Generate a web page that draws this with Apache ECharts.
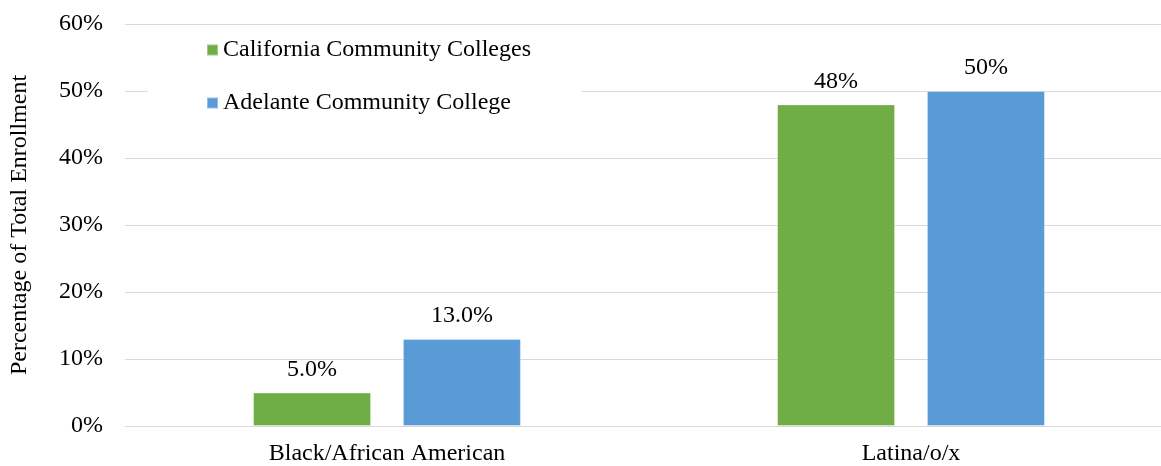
<!DOCTYPE html>
<html>
<head>
<meta charset="utf-8">
<script src="https://cdn.jsdelivr.net/npm/echarts@6/dist/echarts.min.js"></script>
<style>
html,body{margin:0;padding:0;background:#fff;overflow:hidden;width:1161px;height:466px;}
#chart{width:1173px;height:466px;}
</style>
</head>
<body>
<div id="chart"></div>
<script>
const categories = ['Black/African American', 'Latina/o/x'];
const seriesNames = ['California Community Colleges', 'Adelante Community College'];
const cccValues = [5.0, 48];
const adelanteValues = [13.0, 50];
const cccLabels = ['5.0%', '48%'];
const adelanteLabels = ['13.0%', '50%'];
const yTicks = [0, 10, 20, 30, 40, 50, 60];

const FONT = '"Liberation Serif", "Times New Roman", serif';
const TXT = '#000';

const chart = echarts.init(document.getElementById('chart'), null, {renderer: 'canvas'});

function mkLabel(labels) {
  return {
    show: true,
    position: 'top',
    distance: 11,
    fontFamily: FONT,
    fontSize: 24,
    color: TXT,
    formatter: p => labels[p.dataIndex]
  };
}

chart.setOption({
  animation: false,
  backgroundColor: '#fff',
  grid: {left: 122, top: 24, bottom: 40, right: 0, containLabel: false},
  legend: {
    orient: 'vertical',
    left: 148,
    top: 28,
    padding: [10, 51, 10, 58],
    backgroundColor: '#fff',
    itemWidth: 11,
    itemHeight: 11,
    itemGap: 29,
    icon: 'rect',
    textStyle: {fontFamily: FONT, fontSize: 24, color: TXT, padding: [0, 0, 0, 0]},
    data: seriesNames
  },
  xAxis: {
    type: 'category',
    data: categories,
    axisLine: {show: true, lineStyle: {color: '#D9D9D9', width: 1}},
    axisTick: {show: false},
    axisLabel: {fontFamily: FONT, fontSize: 24, color: TXT, margin: 16}
  },
  yAxis: {
    type: 'value',
    min: yTicks[0],
    max: yTicks[yTicks.length - 1],
    interval: yTicks[1] - yTicks[0],
    name: 'Percentage of Total Enrollment',
    nameLocation: 'middle',
    nameRotate: 90,
    nameGap: 93,
    nameTextStyle: {fontFamily: FONT, fontSize: 24, color: TXT},
    axisLine: {show: false},
    axisTick: {show: false},
    axisLabel: {fontFamily: FONT, fontSize: 24, color: TXT, margin: 22, formatter: '{value}%'},
    splitLine: {show: true, lineStyle: {color: '#D9D9D9', width: 1}}
  },
  series: [
    {
      name: seriesNames[0],
      type: 'bar',
      data: cccValues,
      barWidth: 118,
      barGap: '27%',
      itemStyle: {color: '#70AD47', borderColor: 'rgba(255,255,255,0.35)', borderWidth: 1},
      label: mkLabel(cccLabels),
      z: 1
    },
    {
      name: seriesNames[1],
      type: 'bar',
      data: adelanteValues,
      barWidth: 118,
      barGap: '27%',
      itemStyle: {color: '#5B9BD5', borderColor: 'rgba(255,255,255,0.35)', borderWidth: 1},
      label: mkLabel(adelanteLabels),
      z: 1
    }
  ]
});
</script>
</body>
</html>
